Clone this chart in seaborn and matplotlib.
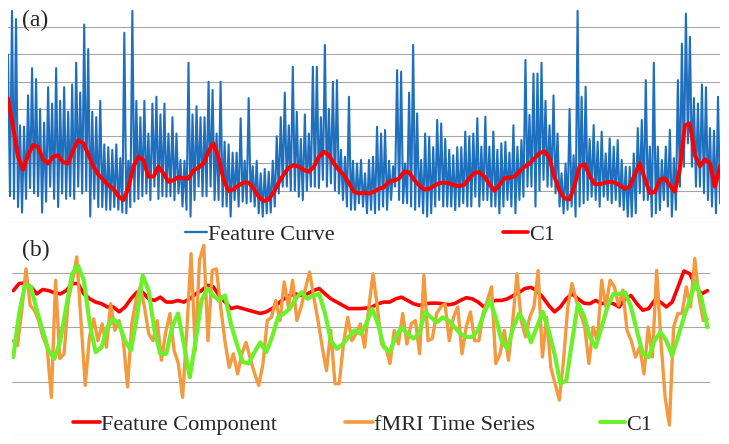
import numpy as np
import pandas as pd
import matplotlib
matplotlib.use("Agg")
import matplotlib.pyplot as plt
from matplotlib.lines import Line2D
import seaborn as sns

# ---- panel (a): feature curve (read as alternating peak / trough values) ----
feature_curve = [
    6.0, 0.8, 7.6, 0.7, 7.3, 0.4, 3.4, 0.2, 3.35, 0.7, 4.5, 1.1, 5.5, 0.9, 5.1, 0.8, 4.0, 0.2, 3.5, 0.6,
    4.8, 1.15, 4.2, 0.7, 5.5, 0.4, 4.3, 0.9, 4.8, 0.7, 3.9, 0.8, 4.9, 0.7, 5.7, 1.15, 4.6, 0.9, 7.1, 1.0,
    6.2, 0.05, 3.9, 0.7, 3.7, 0.4, 4.3, 0.4, 2.7, 0.3, 2.6, 0.3, 2.5, 0.4, 2.7, 0.3, 2.2, 0.2, 6.8, 0.17,
    2.1, 0.4, 7.6, 0.6, 4.3, 0.7, 3.7, 0.8, 4.3, 0.9, 3.1, 0.66, 4.2, 1.15, 4.45, 0.7, 3.8, 0.8, 4.2, 0.78,
    3.1, 0.8, 3.7, 0.66, 3.1, 0.9,
    2.13, 0.42, 2.1, 0.3, 5.7, 0.05, 3.8, 0.66, 4.1, 1.15, 3.7, 0.8, 3.7, 0.8, 5.0, 1.15, 4.7, 0.66, 3.1, 0.66,
    5.0, 0.42, 2.8, 0.42, 2.7, 0.05, 2.4, 0.66, 2.4, 0.42, 3.66, 0.6, 2.1, 0.54, 4.4, 0.6, 1.9, 0.42, 2.1, 0.17,
    1.64, 0.05, 1.8, 0.17, 1.7, 0.2, 2.1, 0.42, 3.0, 0.9, 3.7, 1.15, 4.6, 1.15, 3.4, 1.0, 5.55, 1.0, 3.9, 0.78,
    2.9, 0.66, 3.8, 1.0, 3.1, 1.15, 5.55, 1.15, 5.55, 1.1, 3.7, 1.4, 6.35, 1.15, 4.0, 1.27, 5.0, 1.0, 5.06, 0.9,
    2.5, 0.66, 2.25, 0.42, 4.45, 0.3, 2.1, 0.3, 2.0, 0.54,
    2.13, 0.42, 1.64, 0.17, 2.13, 0.3, 2.25, 0.17, 3.35, 0.3, 3.1, 0.42, 3.23, 0.3, 2.1, 0.66, 1.9, 1.15, 5.43, 0.66,
    5.37, 0.54, 2.0, 0.54, 4.6, 0.42, 6.35, 0.3, 3.84, 0.42, 2.13, 0.17, 3.1, 0.05, 2.98, 0.17, 2.6, 0.42, 3.6, 0.66,
    3.47, 0.42, 2.9, 0.42, 2.5, 0.42, 2.3, 0.29, 2.6, 0.42, 2.6, 0.54, 3.17, 0.42, 3.0, 0.42, 3.1, 0.78, 3.66, 0.42,
    2.62, 0.66, 3.72, 0.66, 2.62, 0.42, 3.17, 0.42, 2.5, 0.17, 2.74, 0.42, 2.8, 0.66, 2.4, 0.42, 3.4, 0.17, 2.62, 0.66,
    2.86, 0.78, 5.8, 1.15, 3.78, 1.15, 5.3, 0.42, 5.3, 1.0,
    5.7, 1.4, 4.3, 1.15, 3.4, 1.15, 4.5, 0.9, 3.1, 0.42, 1.64, 0.17, 2.0, 0.3, 4.0, 0.42, 2.3, 0.05, 7.6, 0.42,
    4.45, 0.54, 4.82, 0.66, 2.9, 0.78, 3.41, 0.66, 2.8, 0.42, 3.17, 0.78, 2.37, 0.66, 2.92, 0.54, 2.62, 0.66, 2.86, 0.42,
    2.13, 0.29, 1.88, 0.05, 1.88, 0.05, 2.37, 0.17, 3.3, 0.91, 3.6, 0.66, 5.06, 0.66, 2.62, 0.05, 5.7, 0.17, 2.62, 0.29,
    2.13, 0.66, 2.62, 0.42, 3.23, 0.05, 2.2, 0.3, 5.06, 1.15, 6.4, 1.88, 7.5, 2.74, 6.65, 1.88, 4.4, 1.15, 4.2, 1.15,
    4.9, 0.91, 4.8, 0.66, 3.3, 0.42, 3.2, 0.17, 4.45, 0.54,
]

c1_a = [
    4.39, 3.35, 2.25, 1.78, 2.3, 2.68, 2.6, 2.15, 2.0, 2.25, 2.3, 2.05, 2.0, 2.5, 2.85, 2.75, 2.35, 1.9,
    1.6, 1.4, 1.2, 1.08, 0.8, 0.66, 1.1, 1.88, 2.25, 2.13, 1.52, 1.52, 1.88, 1.64, 1.33, 1.39, 1.5,
    1.45, 1.45, 1.75, 1.85, 2.0, 2.45, 2.74, 2.2, 1.4, 1.0, 1.05, 1.2, 1.3, 1.3, 1.08, 0.78, 0.62, 0.68,
    0.95, 1.3, 1.6, 1.85, 1.94, 1.88, 1.76, 1.7, 1.88, 2.25, 2.43, 2.31, 2.0, 1.76, 1.58, 1.27, 0.97, 0.9,
    0.93, 0.9, 0.97, 1.07, 1.13, 1.35, 1.37, 1.45, 1.7, 1.68, 1.4, 1.2, 1.05, 1.07, 1.18, 1.28, 1.3, 1.27,
    1.2, 1.17, 1.22, 1.45, 1.66, 1.68, 1.52, 1.25, 1.0, 1.21, 1.46, 1.48, 1.52, 1.7, 1.88, 2.0, 2.19, 2.38,
    2.45, 2.2, 1.5, 1.0, 0.72, 0.68, 1.2, 1.9, 1.97, 1.55, 1.25, 1.24, 1.29, 1.33, 1.3, 1.2, 1.07, 1.15,
    1.6, 2.0, 1.45, 0.92, 0.95, 1.4, 1.45, 1.2, 0.97, 1.8, 3.4, 3.47, 2.3, 1.9, 2.15, 2.0, 1.15, 1.9,
]

# ---- panel (b) ----
feature_component = [
    2.67, 2.80, 2.81, 2.74, 2.61, 2.69, 2.67, 2.63, 2.61, 2.67, 2.80, 2.80, 2.61, 2.52, 2.46, 2.43, 2.37,
    2.37, 2.28, 2.37, 2.52, 2.64, 2.64, 2.52, 2.49, 2.55, 2.46, 2.46, 2.49, 2.46, 2.52, 2.61, 2.67, 2.77,
    2.74, 2.58, 2.46, 2.34, 2.37, 2.34, 2.31, 2.28, 2.25, 2.28, 2.34, 2.43, 2.52, 2.58, 2.61, 2.58, 2.61,
    2.67, 2.71, 2.61, 2.52, 2.46, 2.40, 2.34, 2.34, 2.34,
    2.35, 2.37, 2.43, 2.46, 2.46, 2.52, 2.55, 2.49, 2.43, 2.40, 2.43, 2.44, 2.44, 2.43, 2.41, 2.43, 2.49,
    2.54, 2.52, 2.46, 2.37, 2.46, 2.49, 2.49, 2.52, 2.58, 2.64, 2.71, 2.73, 2.67, 2.55, 2.40, 2.28, 2.37,
    2.52, 2.61, 2.52, 2.44, 2.43, 2.49, 2.43, 2.46, 2.43, 2.37, 2.52, 2.58, 2.43, 2.31, 2.34, 2.49, 2.46,
    2.37, 2.46, 2.74, 3.03, 2.98, 2.74, 2.61, 2.67,
]

fmri_series = [
    1.75, 1.66, 2.3, 3.07, 2.40, 2.31, 2.12, 1.82, 1.63, 0.71,
    2.86, 1.42, 1.51, 2.49, 2.86, 3.29, 2.12, 0.93, 1.82, 2.15,
    1.75, 2.06, 1.63, 2.43, 1.94, 2.12, 1.75, 0.90, 2.06, 2.5,
    2.74, 2.37, 1.88, 1.75, 2.12, 1.39, 1.9, 2.25, 1.57, 1.33,
    0.71, 1.94, 3.35, 1.57, 3.23, 3.50, 1.75, 3.04, 3.07, 2.37,
    1.75, 1.26, 1.51, 1.14, 1.51, 1.72, 1.42, 1.15, 0.93, 1.33,
    2.12, 2.18, 2.49, 2.12, 2.83, 2.37, 2.86, 2.12, 2.37, 2.7,
    3.01, 2.55, 2.12, 1.63, 1.20, 1.94, 0.96, 0.96, 1.69, 2.18,
    1.75, 1.88,
    2.06, 1.63, 2.37, 2.98, 2.37, 1.69, 1.63, 1.33, 1.94, 1.69,
    2.25, 1.69, 2.06, 2.12, 1.51, 2.95, 1.75, 1.79, 2.25, 2.37,
    2.43, 1.75, 2.18, 2.37, 1.51, 2.0, 2.28, 1.75, 1.75, 2.25,
    2.49, 2.74, 1.33, 1.51, 1.94, 1.39, 2.12, 2.98, 2.12, 1.82,
    2.18, 2.37, 3.04, 1.45, 2.18, 1.26, 0.96, 0.66, 1.39, 2.37,
    2.80, 2.49, 2.25, 2.0, 1.33, 2.0, 1.75, 2.86, 2.37, 2.86,
    2.74, 2.40, 2.68, 1.94, 1.75, 1.45, 1.63, 1.14, 2.0, 1.45,
    3.04, 1.75, 0.71, 0.2, 2.0, 2.25, 2.25, 2.74, 2.37, 3.26,
    2.55, 2.12, 2.15,
]

c1_b = [
    1.45, 2.25, 2.77, 2.74, 2.31, 1.94, 1.57, 1.42, 1.75, 2.37, 2.98, 3.13, 2.86, 2.06, 1.54, 1.63, 2.0,
    2.15, 2.06, 1.75, 1.57, 2.18, 2.95, 2.67, 1.94, 1.51, 1.51, 2.0, 2.25, 1.69, 1.08, 1.75, 2.49, 2.71,
    2.58, 2.49, 2.58, 2.06, 1.69, 1.36, 1.33, 1.54, 1.72, 1.54, 1.82, 2.18, 2.25, 2.34, 2.52, 2.64, 2.52,
    2.58, 2.61, 2.25, 1.75, 1.60, 1.69, 1.82, 1.94, 1.88,
    2.06, 2.34, 2.06, 1.63, 1.54, 1.82, 2.0, 1.88, 1.79, 1.88, 2.28, 2.18, 2.09, 2.18, 2.12, 2.0, 1.88,
    1.82, 1.82, 1.94, 2.25, 2.49, 2.18, 1.75, 1.60, 2.0, 2.25, 2.06, 1.72, 2.0, 2.28, 1.94, 1.51, 0.96,
    1.02, 1.75, 2.43, 2.21, 1.82, 1.63, 2.0, 2.37, 2.61, 2.61, 2.64, 2.37, 1.94, 1.51, 1.45, 1.75, 1.91,
    1.75, 1.48, 1.82, 2.18, 2.49, 2.83, 2.52, 2.0,
]

labels_a = ["Feature Curve", "C1"]
labels_b = ["Feature Component", "fMRI Time Series", "C1"]
BLUE, RED, ORANGE, GREEN = "#1F6FBF", "#FF0000", "#F39A3E", "#6CF02A"
GRID = "#A6A6A6"

sns.set_style("white")
plt.rcParams["font.family"] = ["Liberation Serif", "DejaVu Serif"]

W, H = 729, 444
fig = plt.figure(figsize=(W / 100, H / 100), dpi=100)


def box(x0, y0, x1, y1):
    # pixel box (top-left origin) -> figure fraction
    return [x0 / W, 1 - y1 / H, (x1 - x0) / W, (y1 - y0) / H]


def style(ax, ticks):
    ax.set_yticks(ticks)
    ax.grid(axis="y", color=GRID, lw=0.8)
    ax.grid(axis="x", visible=False)
    ax.set_axisbelow(True)
    for s in ax.spines.values():
        s.set_visible(False)
    ax.tick_params(length=0, labelleft=False, labelbottom=False)
    ax.set_xlabel("")
    ax.set_ylabel("")
    ax.patch.set_alpha(0)


# panel (a)
ax_a = fig.add_axes(box(8, 0, 720, 218))
df_a = pd.DataFrame({"t": np.arange(len(feature_curve)), "v": feature_curve})
sns.lineplot(data=df_a, x="t", y="v", ax=ax_a, color=BLUE, lw=1.5,
             estimator=None, sort=False)
t_c1a = np.linspace(0, len(feature_curve) - 1, len(c1_a))
sns.lineplot(x=t_c1a, y=c1_a, ax=ax_a, color=RED, lw=2.9, estimator=None, sort=False)
ax_a.set_xlim(0, len(feature_curve) - 1)
ax_a.set_ylim(0, 8)
style(ax_a, range(0, 8))

# panel (b)
ax_b = fig.add_axes(box(12, 240, 710, 436))
n_b = len(fmri_series)
t_fc = np.linspace(0, n_b - 1, len(feature_component))
t_c1b = np.linspace(0, n_b - 1, len(c1_b))
sns.lineplot(x=t_fc, y=feature_component, ax=ax_b, color=RED, lw=2.6, estimator=None, sort=False)
sns.lineplot(x=np.arange(n_b), y=fmri_series, ax=ax_b, color=ORANGE, lw=2.4, estimator=None, sort=False)
sns.lineplot(x=t_c1b, y=c1_b, ax=ax_b, color=GREEN, lw=3.0, estimator=None, sort=False)
ax_b.set_xlim(-0.3, n_b - 1 + 0.6)
ax_b.set_ylim(0, 3.6)
style(ax_b, range(0, 4))

# panel tags
fig.text(22 / W, 1 - 26 / H, "(a)", fontsize=17, va="baseline", ha="left")
fig.text(22 / W, 1 - 256 / H, "(b)", fontsize=17, va="baseline", ha="left")


def legend_item(x0, x1, y_line, y_base, color, lw, label):
    fig.add_artist(Line2D([x0 / W, x1 / W], [1 - y_line / H] * 2, color=color, lw=lw,
                          transform=fig.transFigure))
    fig.text((x1 + 1) / W, 1 - y_base / H, label, fontsize=16, va="baseline", ha="left")


legend_item(185, 207, 232, 240, BLUE, 1.6, labels_a[0])
legend_item(503, 528, 232, 240, RED, 2.6, labels_a[1])
legend_item(73, 100, 422, 430, RED, 2.6, labels_b[0])
legend_item(345, 373, 422, 430, ORANGE, 2.6, labels_b[1])
legend_item(600, 625, 422, 430, GREEN, 2.9, labels_b[2])

fig.savefig("out.png", dpi=100)
